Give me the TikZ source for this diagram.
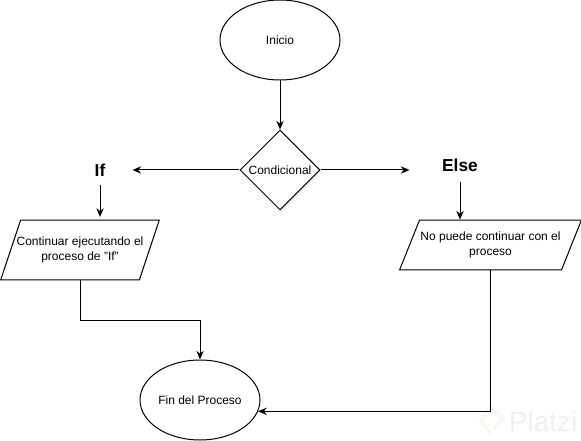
\documentclass[tikz,border=0pt]{standalone}
\usepackage{fontspec}
\setmainfont{Liberation Sans}
\usetikzlibrary{arrows.meta,shapes.geometric}
\definecolor{markgray}{HTML}{F0F0F0}
\definecolor{markgreen}{HTML}{F6F9EE}

\begin{document}
\begin{tikzpicture}[x=0.75pt, y=-0.75pt, ->, >={Stealth[length=6.5pt,width=5.5pt]}, line width=0.75pt,
  every node/.style={font=\fontsize{9}{11.25}\selectfont, align=center},
  startend/.style={draw, ellipse, minimum width=90pt, minimum height=60pt, inner sep=0pt},
  decision/.style={draw, diamond, minimum width=60pt, minimum height=60pt, inner sep=0pt},
  process/.style={draw, trapezium, trapezium left angle=#1, trapezium right angle=180-#1},
  branch/.style={font=\bfseries\fontsize{13}{15}\selectfont, inner sep=0pt, minimum width=48pt}]
\path[use as bounding box] (0,0) rectangle (581,441);
\node[text=markgray, font=\fontsize{21}{21}\selectfont, inner sep=0pt] (marca) at (543,421) {Platzi};
\draw[-, markgreen, line width=3pt, line join=round] (491,434) -- (481,421) -- (491,407) -- (503,419) -- (493,429);
\node[startend] (inicio) at (280,40) {Inicio};
\node[decision] (cond) at (280,170) {Condicional};
\node[branch, minimum height=22.5pt] (if) at (100,170) {If};
\node[branch, minimum width=75pt, minimum height=25.5pt] (else) at (460,165) {Else};
\node[process=71.6, inner xsep=-3pt, inner ysep=12.6pt] (contin) at (80,250) {Continuar ejecutando el\\proceso de "If"};
\node[process=68.2, inner xsep=0.7pt, inner ysep=8.9pt] (nopuede) at (490.5,245) {No puede continuar con el\\proceso};
\node[startend] (fin) at (200,400) {Fin del Proceso};
\draw (inicio) -- (cond);
\draw (cond) -- (if);
\draw (cond) -- (cond -| else.west);
\draw[shorten >=2pt] (if) -- (if |- contin.north);
\draw (else) -- (else |- nopuede.north);
\draw (contin.south) -- ++(0,40) -| (fin.north);
\draw (nopuede.south) |- (fin.349);
\end{tikzpicture}
\end{document}
